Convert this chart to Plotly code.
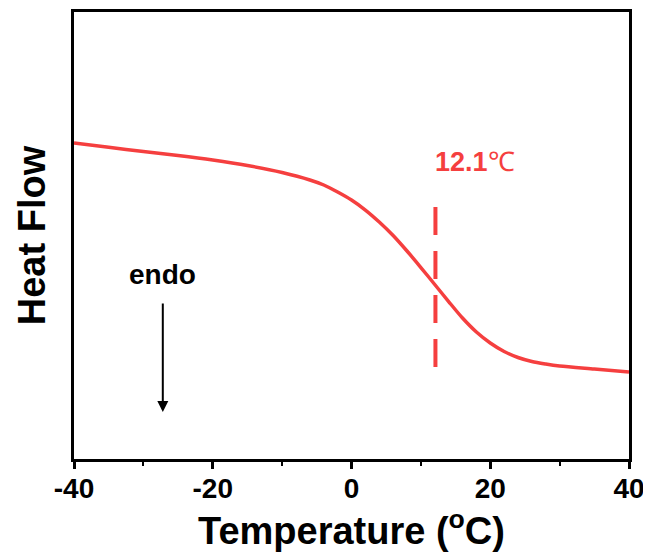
import plotly.graph_objects as go

# Data (heat flow in arbitrary units)
temperature = [-40, -35, -30, -25, -20, -15, -10, -6, -4, -2, 0, 2, 4, 6, 8, 10, 12,
               14, 16, 18, 20, 22, 24, 26, 28, 30, 35, 40]
heat_flow = [70.69, 69.73, 68.79, 67.90, 66.89, 65.66, 64.09, 62.42, 61.30, 59.73,
             57.94, 55.70, 53.02, 50.00, 46.53, 42.84, 39.04, 35.23, 31.54, 28.41,
             25.95, 24.05, 22.71, 21.81, 21.25, 20.81, 20.13, 19.46]

tg_value = 12.1
tg_marker_y = [20.6, 56.4]
tg_label = "<b>12.1</b>℃"
tg_label_pos = (11.8, 66.4)

endo_x = -27.2
endo_text_y = 41.2
endo_arrow_y = [35.1, 10.5]

x_ticks = [-40, -20, 0, 20, 40]
x_range = [-40, 40]
y_range = [0, 100]

RED = "#F53F3F"
FONT = "Liberation Sans, Arial, sans-serif"

fig = go.Figure()
fig.add_trace(go.Scatter(x=temperature, y=heat_flow, mode="lines",
                         line=dict(color=RED, width=3.5, shape="spline", smoothing=0.8),
                         showlegend=False))
fig.add_trace(go.Scatter(x=[tg_value, tg_value], y=tg_marker_y, mode="lines",
                         line=dict(color=RED, width=4, dash="28px,16px"),
                         showlegend=False))

fig.add_annotation(x=tg_label_pos[0], y=tg_label_pos[1], text=tg_label, showarrow=False,
                   xanchor="left", yanchor="middle",
                   font=dict(family=FONT, size=27, color=RED))
fig.add_annotation(x=endo_x, y=endo_text_y, text="<b>endo</b>", showarrow=False,
                   xanchor="center", yanchor="middle",
                   font=dict(family=FONT, size=28, color="black"))
fig.add_annotation(x=endo_x, y=endo_arrow_y[1], ax=endo_x, ay=endo_arrow_y[0],
                   axref="x", ayref="y", xref="x", yref="y", text="",
                   showarrow=True, arrowhead=2, arrowsize=1.1, arrowwidth=2,
                   arrowcolor="black")

fig.update_xaxes(range=x_range, tickvals=x_ticks, ticktext=[str(v) for v in x_ticks],
                 ticks="outside", ticklen=7, tickwidth=3, tickcolor="black",
                 ticklabelstandoff=-5,
                 minor=dict(dtick=10, ticks="outside", ticklen=4, tickwidth=2,
                            tickcolor="black", showgrid=False),
                 showline=True, linewidth=3, linecolor="black", mirror=True,
                 showgrid=False, zeroline=False, automargin=False,
                 tickfont=dict(family=FONT, size=28, color="black", weight="bold"),
                 title=dict(text="<b>Temperature (<sup>o</sup>C)</b>", standoff=0,
                            font=dict(family=FONT, size=38, color="black")))
fig.update_yaxes(range=y_range, showticklabels=False, ticks="",
                 showline=True, linewidth=3, linecolor="black", mirror=True,
                 showgrid=False, zeroline=False, automargin=False,
                 title=dict(text="<b>Heat Flow</b>", standoff=14,
                            font=dict(family=FONT, size=38, color="black")))

# page body adds an 8px offset, so the figure is sized to fill the rest of the window
fig.update_layout(width=643, height=549,
                  margin=dict(l=66, r=22, t=4, b=98),
                  plot_bgcolor="white", paper_bgcolor="white")

fig.write_html("out.html")
